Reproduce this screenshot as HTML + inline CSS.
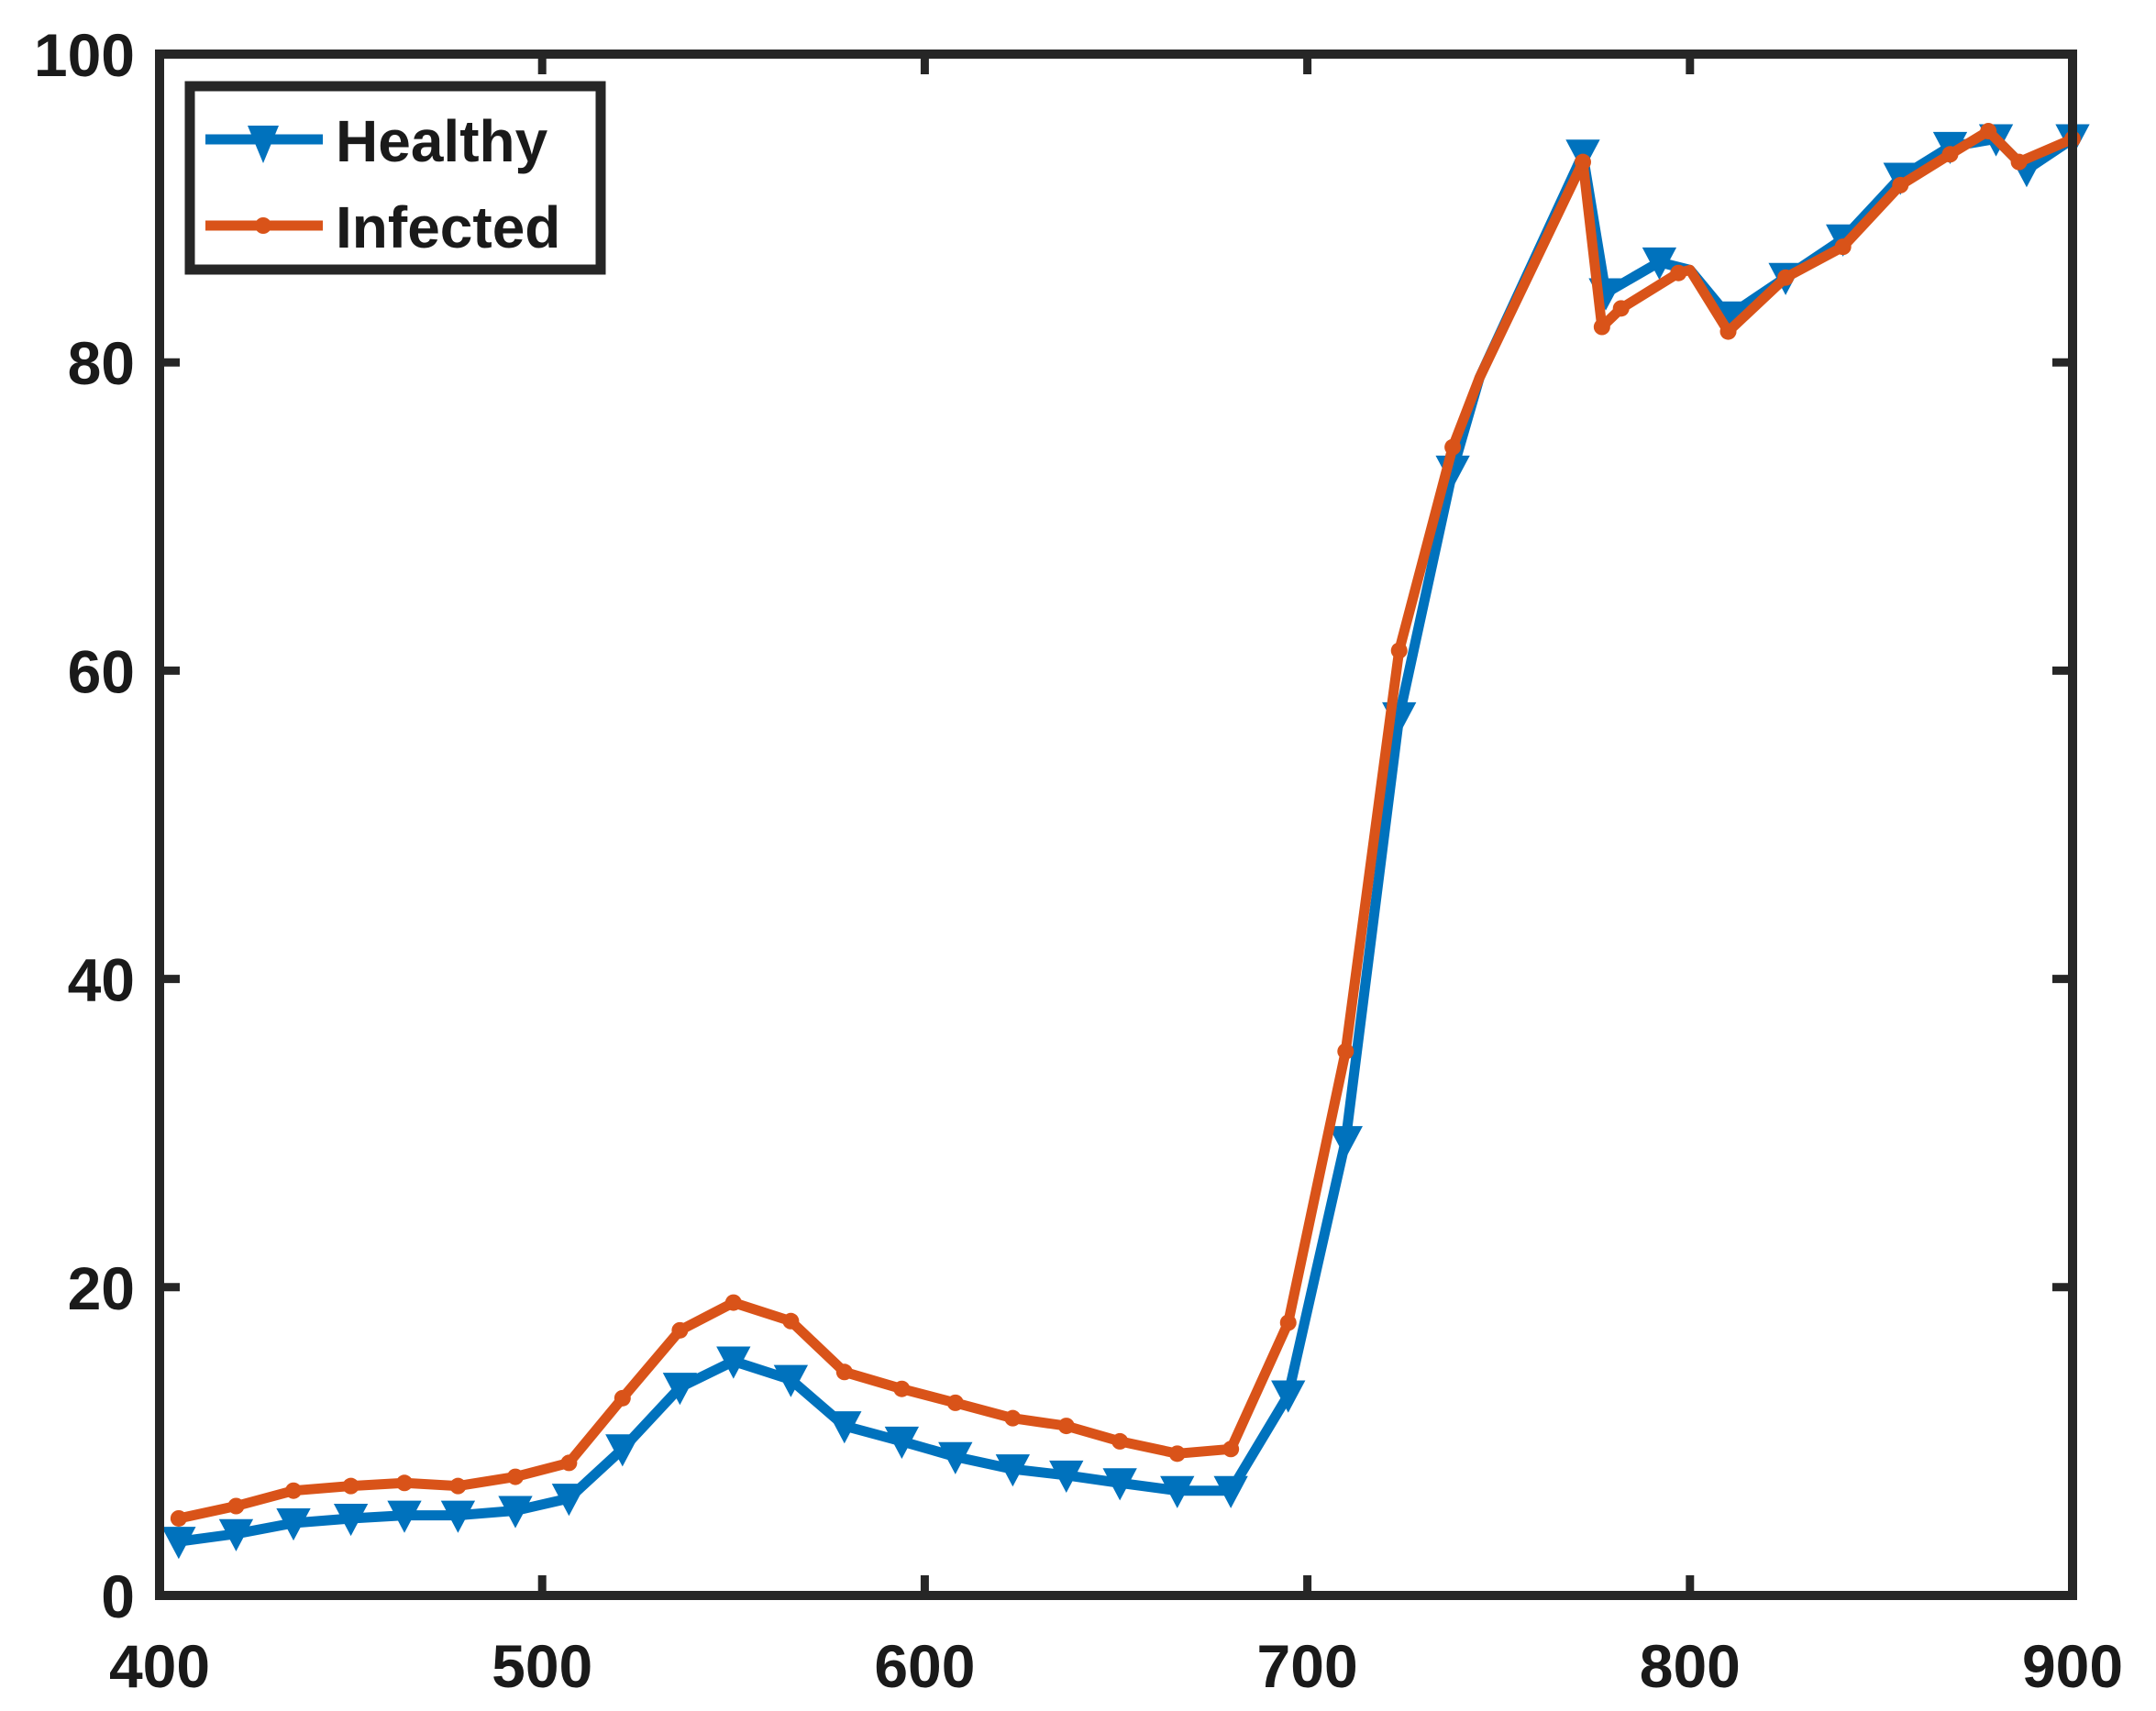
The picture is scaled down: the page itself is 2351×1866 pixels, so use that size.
<!DOCTYPE html>
<html><head><meta charset="utf-8"><style>
html,body{margin:0;padding:0;background:#fff;}
svg{display:block;}
text{font-family:"Liberation Sans",sans-serif;font-weight:bold;fill:#1a1a1a;}
</style></head><body>
<svg id="s" width="2351" height="1866" viewBox="0 0 2351 1866" xmlns="http://www.w3.org/2000/svg">
<rect width="2351" height="1866" fill="#fff"/>
<g id="plot"></g>
<g id="axes"></g>
</svg>
<script>
const L=174,R=2260,T=59,B=1740;
const X=l=>L+(l-400)*(R-L)/500, Y=v=>B-v*(B-T)/100;
const H=[[405,3.5,1],[420,4,1],[435,4.7,1],[450,5,1],[464,5.2,1],[478,5.2,1],[493,5.5,1],[507,6.3,1],[521,9.5,1],[536,13.5,1],[550,15.2,1],[565,14,1],[579,11,1],[594,10,1],[608,9,1],[623,8.2,1],[637,7.8,1],[651,7.3,1],[666,6.8,1],[680,6.8,1],[695,13,1],[710,29.5,1],[724,57,1],[738,73,1],[745,79,0],[772,93.5,1],[778,84.5,1],[792,86.5,1],[800,86,0],[810,83,1],[825,85.5,1],[840,88,1],[855,92,1],[868,94,1],[880,94.5,1],[888,92.5,1],[900,94.5,1]];
const I=[[405,5,1],[420,5.8,1],[435,6.8,1],[450,7.1,1],[464,7.3,1],[478,7.1,1],[493,7.7,1],[507,8.6,1],[521,12.8,1],[536,17.2,1],[550,19,1],[565,17.8,1],[579,14.5,1],[594,13.4,1],[608,12.5,1],[623,11.5,1],[637,11,1],[651,10,1],[666,9.2,1],[680,9.5,1],[695,17.7,1],[710,35.3,1],[724,61.3,1],[738,74.5,1],[745,79,0],[772,93,1],[777,82.3,1],[782,83.5,1],[797,85.8,1],[800,86,0],[810,82,1],[825,85.5,1],[840,87.5,1],[855,91.5,1],[868,93.5,1],[878,95,1],[886,93,1],[900,94.5,1]];
let s='';
function line(d,c){s+=`<polyline points="${d.map(p=>X(p[0]).toFixed(1)+','+Y(p[1]).toFixed(1)).join(' ')}" fill="none" stroke="${c}" stroke-width="11" stroke-linejoin="round" stroke-linecap="round"/>`;}
line(H,'#0072BD');
H.forEach(p=>{if(p[2]){const x=X(p[0]),y=Y(p[1]);s+=`<polygon points="${x-17},${y-15} ${x+17},${y-15} ${x},${y+17}" fill="#0072BD" stroke="#0072BD" stroke-width="2"/>`;}});
line(I,'#D95319');
I.forEach(p=>{if(p[2]){s+=`<circle cx="${X(p[0])}" cy="${Y(p[1])}" r="9" fill="#D95319"/>`;}});
document.getElementById('plot').innerHTML=s;
let a=`<rect x="${L}" y="${T}" width="${R-L}" height="${B-T}" fill="none" stroke="#262626" stroke-width="10"/>`;
for(let l=400;l<=900;l+=100){const x=X(l);a+=`<line x1="${x}" y1="${B}" x2="${x}" y2="${B-22}" stroke="#262626" stroke-width="9"/><line x1="${x}" y1="${T}" x2="${x}" y2="${T+22}" stroke="#262626" stroke-width="9"/><text x="${x}" y="1840" font-size="66" text-anchor="middle">${l}</text>`;}
for(let v=0;v<=100;v+=20){const y=Y(v);a+=`<line x1="${L}" y1="${y}" x2="${L+22}" y2="${y}" stroke="#262626" stroke-width="9"/><line x1="${R}" y1="${y}" x2="${R-22}" y2="${y}" stroke="#262626" stroke-width="9"/><text x="147" y="${y+24}" font-size="66" text-anchor="end">${v}</text>`;}
a+=`<rect x="207" y="94" width="448" height="200" fill="#fff" stroke="#262626" stroke-width="11"/>`;
a+=`<line x1="224" y1="152" x2="352" y2="152" stroke="#0072BD" stroke-width="11"/><polygon points="270,137 304,137 287,178" fill="#0072BD"/>`;
a+=`<line x1="224" y1="246" x2="352" y2="246" stroke="#D95319" stroke-width="11"/><circle cx="287" cy="246" r="9" fill="#D95319"/>`;
a+=`<text x="366" y="176" font-size="64">Healthy</text><text x="366" y="270" font-size="64">Infected</text>`;
document.getElementById('axes').innerHTML=a;
</script>
</body></html>
